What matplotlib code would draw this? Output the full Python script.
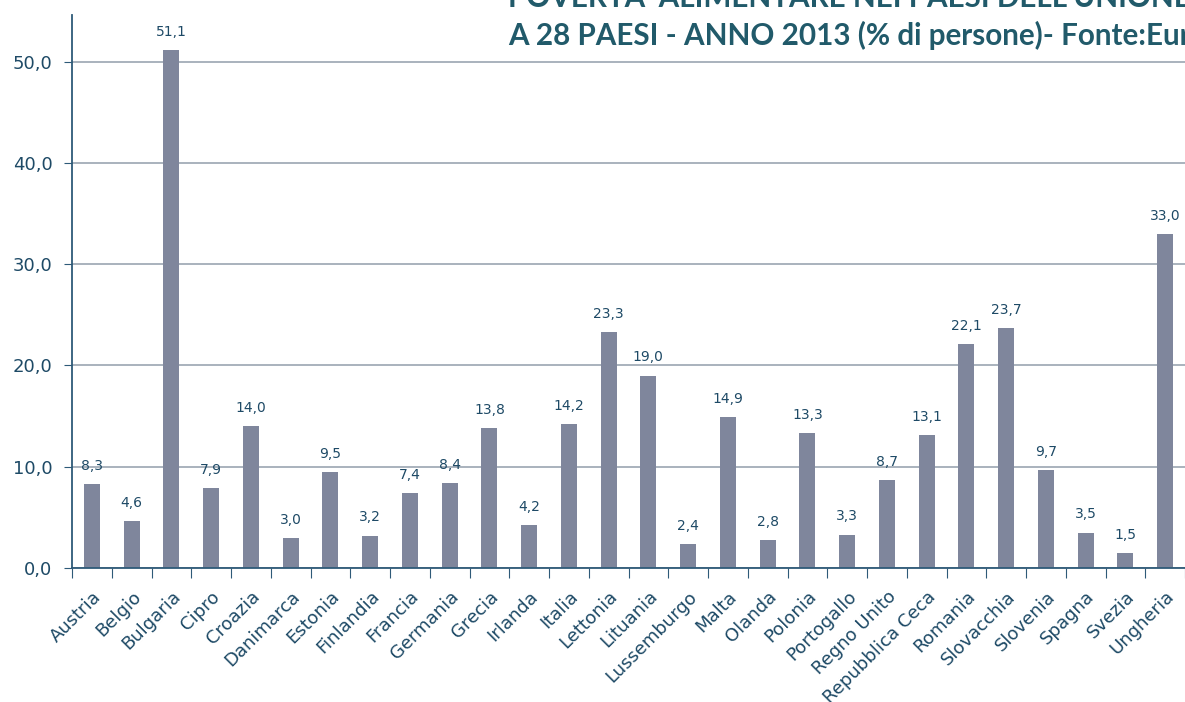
import numpy as np
import matplotlib.pyplot as plt

# Data
paesi = ['Austria', 'Belgio', 'Bulgaria', 'Cipro', 'Croazia', 'Danimarca', 'Estonia',
         'Finlandia', 'Francia', 'Germania', 'Grecia', 'Irlanda', 'Italia', 'Lettonia',
         'Lituania', 'Lussemburgo', 'Malta', 'Olanda', 'Polonia', 'Portogallo',
         'Regno Unito', 'Repubblica Ceca', 'Romania', 'Slovacchia', 'Slovenia',
         'Spagna', 'Svezia', 'Ungheria']
valori = [8.3, 4.6, 51.1, 7.9, 14.0, 3.0, 9.5, 3.2, 7.4, 8.4, 13.8, 4.2, 14.2, 23.3,
          19.0, 2.4, 14.9, 2.8, 13.3, 3.3, 8.7, 13.1, 22.1, 23.7, 9.7, 3.5, 1.5, 33.0]
y_ticks = [0, 10, 20, 30, 40, 50]
titolo_1 = "POVERTA' ALIMENTARE NEI PAESI DELL'UNIONE EUROPEA"
titolo_2 = "A 28 PAESI - ANNO 2013 (% di persone)- Fonte:Eurostat"

bar_col = '#7f869c'
txt_col = '#1e4a66'
axis_col = '#2e5a78'
grid_col = '#a3acb8'

fig = plt.figure(figsize=(11.85, 7.02), dpi=100)
ax = fig.add_axes([72 / 1185, 134 / 702, 1113 / 1185, 553 / 702])

x = np.arange(len(paesi))
bars = ax.bar(x, valori, width=0.4, color=bar_col, zorder=3)

ax.set_xlim(-0.5, len(paesi) - 0.5)
ax.set_ylim(0, 54.6)

# gridlines
ax.set_yticks(y_ticks)
ax.set_yticklabels([f'{v:.1f}'.replace('.', ',') for v in y_ticks],
                   fontsize=13, color=txt_col, family='DejaVu Sans')
ax.yaxis.grid(True, color=grid_col, linewidth=1.3, zorder=0)
ax.tick_params(axis='y', length=6, color=axis_col, pad=8)

# ticks between categories, labels at centres
ax.set_xticks(np.arange(len(paesi) + 1) - 0.5)
ax.set_xticklabels([])
ax.set_xticks(x, minor=True)
ax.set_xticklabels(paesi, minor=True, rotation=45, ha='right', rotation_mode='anchor',
                   fontsize=13, color=txt_col, family='DejaVu Sans')
ax.tick_params(axis='x', which='major', length=7, color=axis_col, direction='out')
ax.tick_params(axis='x', which='minor', length=0, pad=14)

for s in ['top', 'right']:
    ax.spines[s].set_visible(False)
for s in ['left', 'bottom']:
    ax.spines[s].set_color(axis_col)
    ax.spines[s].set_linewidth(1.3)
    ax.spines[s].set_zorder(4)

# value labels
for xi, v in zip(x, valori):
    ax.annotate(f'{v:.1f}'.replace('.', ','), (xi, v), xytext=(0, 8),
                textcoords='offset points', ha='center', va='bottom',
                fontsize=10, color=txt_col, family='DejaVu Sans', zorder=5)

# title (cut off by figure edges, as in the reference)
fig.text(508 / 1185, 1 - 7 / 702, titolo_1, fontsize=21.3, fontweight='bold',
         color='#215a6a', family='Lato', ha='left', va='baseline')
fig.text(508 / 1185, 1 - 45 / 702, titolo_2, fontsize=21.3, fontweight='bold',
         color='#215a6a', family='Lato', ha='left', va='baseline')

fig.savefig('out.png', dpi=100)
